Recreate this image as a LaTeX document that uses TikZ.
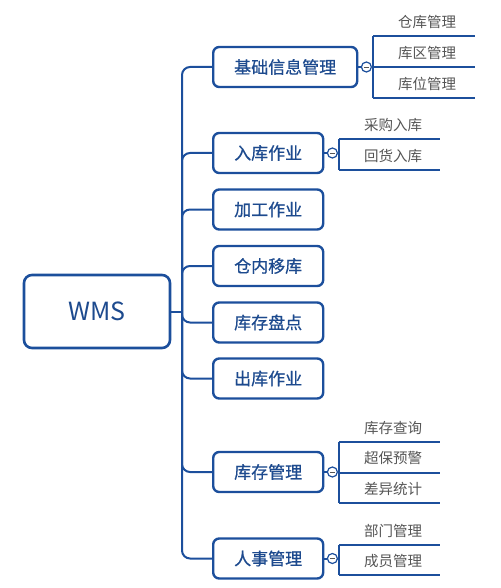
\documentclass[tikz,border=0pt]{standalone}
\usepackage{fontspec}
\setmainfont{Noto Sans CJK SC}
\newfontfamily\midcjk[FakeBold=0.6]{Noto Sans CJK SC}
\usetikzlibrary{calc}
\definecolor{mblue}{HTML}{1C4F9C}
\definecolor{tblue}{HTML}{1D4A8E}
\definecolor{lgray}{HTML}{555555}
\tikzset{
  conn/.style={draw=mblue, line width=2pt, rounded corners=8pt},
  branch/.style={draw=mblue, line width=2.4pt, rounded corners=6pt, fill=white,
    text=tblue, font=\midcjk\fontsize{17}{20}\selectfont, minimum height=40pt,
    inner sep=0pt, anchor=west},
  leaf/.style={text=lgray, font=\fontsize{14.5}{17}\selectfont, minimum height=28pt,
    inner sep=0pt, anchor=south west, text width=#1, align=center},
  leaf/.default=108pt,
  knob/.style={circle, draw=mblue, line width=1.2pt, fill=white, minimum size=10pt, inner sep=0pt},
}
\begin{document}
\begin{tikzpicture}[x=1pt,y=-1pt]
\useasboundingbox (0,0) rectangle (500,588);
% root
\node[draw=mblue, line width=2.6pt, rounded corners=8pt, text=tblue,
  font=\fontsize{25}{28}\selectfont, minimum width=146pt, minimum height=73pt,
  inner sep=0pt] (wms) at (97,311.5) {WMS};
\coordinate (hub) at (182,311.5);
% branches
\node[branch, minimum width=144pt] (b1) at (212,67) {基础信息管理};
\node[branch, minimum width=110pt] (b2) at (212,153) {入库作业};
\node[branch, minimum width=110pt] (b3) at (212,209.5) {加工作业};
\node[branch, minimum width=110pt] (b4) at (212,266) {仓内移库};
\node[branch, minimum width=110pt] (b5) at (212,322.5) {库存盘点};
\node[branch, minimum width=110pt] (b6) at (212,378.5) {出库作业};
\node[branch, minimum width=110pt] (b7) at (212,472) {库存管理};
\node[branch, minimum width=110pt] (b8) at (212,558.5) {人事管理};
% trunk
\draw[conn] (wms.east) -- (hub);
\foreach \b in {b1,b2,b3,b4,b5,b6,b7,b8}{
  \draw[conn] (hub) |- (\b.west);
}
% knobs
\node[knob] (k1) at ($(b1.east)+(8,0)$) {};
\node[knob] (k2) at ($(b2.east)+(8,0)$) {};
\node[knob] (k7) at ($(b7.east)+(8,0)$) {};
\node[knob] (k8) at ($(b8.east)+(8,0)$) {};
\foreach \k in {k1,k2,k7,k8}{
  \draw[lgray, line width=0.8pt] ($(\k)+(-2.5,0)$) -- ($(\k)+(2.5,0)$);
}
\draw[conn] (b1.east) -- (k1.west);
\draw[conn] (b2.east) -- (k2.west);
\draw[conn] (b7.east) -- (k7.west);
\draw[conn] (b8.east) -- (k8.west);
% leaves b1
\node[leaf] (l11) at (373,36) {仓库管理};
\node[leaf] (l12) at (373,67) {库区管理};
\node[leaf] (l13) at (373,98) {库位管理};
% leaves b2
\node[leaf] (l21) at (339,139) {采购入库};
\node[leaf] (l22) at (339,170) {回货入库};
% leaves b7
\node[leaf] (l71) at (339,442) {库存查询};
\node[leaf] (l72) at (339,472.5) {超保预警};
\node[leaf] (l73) at (339,503) {差异统计};
% leaves b8
\node[leaf] (l81) at (339,545) {部门管理};
\node[leaf] (l82) at (339,575) {成员管理};
% underlines
\foreach \l/\w in {l11/102,l12/102,l13/102,l21/101,l22/101,l71/101,l72/101,l73/101,l81/101,l82/101}{
  \draw[mblue, line width=2pt] (\l.south west) -- ++(\w pt,0);
}
% brackets
\draw[mblue, line width=2pt] (l11.south west) -- (l13.south west);
\draw[mblue, line width=2pt] (l21.south west) -- (l22.south west);
\draw[mblue, line width=2pt] (l71.south west) -- (l73.south west);
\draw[mblue, line width=2pt] (l81.south west) -- (l82.south west);
\draw[mblue, line width=2pt] (k1.east) -- (l12.south west);
\draw[mblue, line width=2pt] (k2.east) -- ($(l21.south west)!0.5!(l22.south west)$);
\draw[mblue, line width=2pt] (k7.east) -- (l72.south west);
\draw[mblue, line width=2pt] (k8.east) -- ($(l81.south west)!0.5!(l82.south west)$);
\end{tikzpicture}
\end{document}
